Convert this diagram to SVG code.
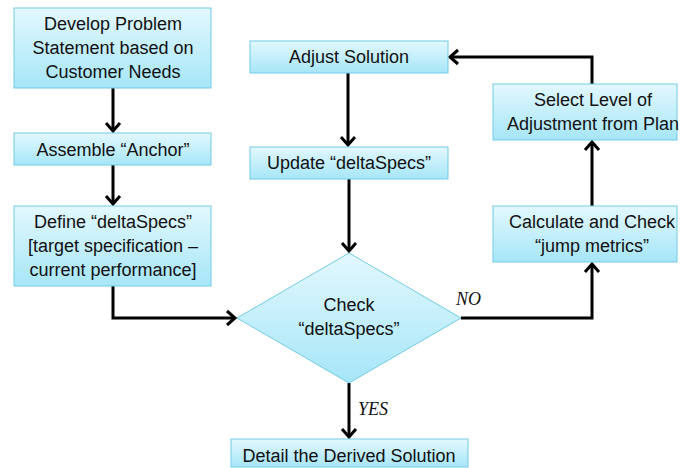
<svg xmlns="http://www.w3.org/2000/svg" width="680" height="468" viewBox="0 0 680 468">
<defs>
<linearGradient id="g" x1="0" y1="0" x2="0" y2="1">
<stop offset="0" stop-color="#e3f8fe"/>
<stop offset="1" stop-color="#a6e6f8"/>
</linearGradient>
<marker id="ah" markerUnits="userSpaceOnUse" markerWidth="20" markerHeight="20" viewBox="-12 -10 14 20" refX="0" refY="0" orient="auto">
<path d="M-8,-7 L0,0 L-8,7" fill="none" stroke="#000" stroke-width="3"/>
</marker>
<style>
.box{fill:url(#g);stroke:#72cbe4;stroke-width:1}
.t{font-family:"Liberation Sans",Arial,sans-serif;font-size:18px;fill:#111;text-anchor:middle}
.lbl{font-family:"Liberation Serif","Times New Roman",serif;font-style:italic;font-size:18px;fill:#111}
.c{fill:none;stroke:#000;stroke-width:3;marker-end:url(#ah)}
</style>
</defs>
<rect width="680" height="468" fill="#fff"/>
<g id="connectors">
<path class="c" d="M113,88 V131"/>
<path class="c" d="M113,165 V204"/>
<path class="c" d="M113,286 V318 H235"/>
<path class="c" d="M348,73 V145"/>
<path class="c" d="M349,179 V251"/>
<path class="c" d="M349,383 V437"/>
<path class="c" d="M461,318 H592 V264"/>
<path class="c" d="M592,206 V142"/>
<path class="c" d="M592,84 V57 H450"/>
</g>
<g id="n1"><rect class="box" x="14" y="8" width="197" height="80"/>
<text class="t" x="113" y="30">Develop Problem</text>
<text class="t" x="113" y="54">Statement based on</text>
<text class="t" x="113" y="78">Customer Needs</text></g>
<g id="n2"><rect class="box" x="14" y="133" width="197" height="32"/>
<text class="t" x="113" y="156">Assemble “Anchor”</text></g>
<g id="n3"><rect class="box" x="14" y="206" width="197" height="80"/>
<text class="t" x="113" y="228">Define “deltaSpecs”</text>
<text class="t" x="113" y="252">[target specification –</text>
<text class="t" x="113" y="276">current performance]</text></g>
<g id="n4"><rect class="box" x="250" y="41" width="198" height="32"/>
<text class="t" x="349" y="63">Adjust Solution</text></g>
<g id="n5"><rect class="box" x="250" y="147" width="198" height="32"/>
<text class="t" x="349" y="169">Update “deltaSpecs”</text></g>
<g id="n6"><path class="box" d="M349,253 L461,318 L349,383 L237,318 Z"/>
<text class="t" x="349" y="311">Check</text>
<text class="t" x="349" y="335">“deltaSpecs”</text></g>
<g id="n7"><rect class="box" x="231" y="439" width="237" height="28"/>
<text class="t" x="349" y="462">Detail the Derived Solution</text></g>
<g id="n8"><rect class="box" x="493" y="84" width="184" height="56"/>
<text class="t" x="593" y="106">Select Level of</text>
<text class="t" x="593" y="130">Adjustment from Plan</text></g>
<g id="n9"><rect class="box" x="493" y="206" width="184" height="56"/>
<text class="t" x="592" y="228">Calculate and Check</text>
<text class="t" x="592" y="252">“jump metrics”</text></g>
<text class="lbl" x="358" y="415">YES</text>
<text class="lbl" x="456" y="305">NO</text>
</svg>
